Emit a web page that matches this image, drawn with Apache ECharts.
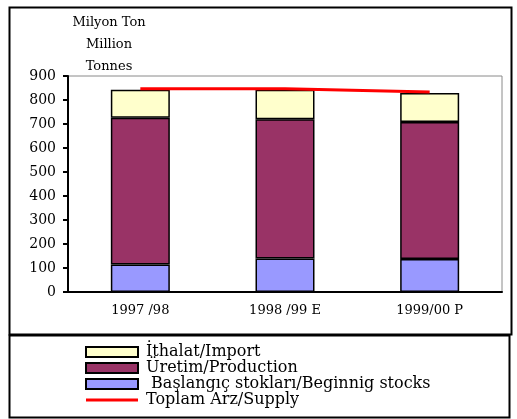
<!DOCTYPE html>
<html>
<head>
<meta charset="utf-8">
<title>Arz</title>
<script src="https://cdn.jsdelivr.net/npm/echarts@6/dist/echarts.min.js"></script>
<style>
  html, body { margin: 0; padding: 0; background: #fff; }
  #main { width: 517px; height: 419px; }
</style>
</head>
<body>
<div id="main"></div>
<script>
// kategoriler ve degerler (milyon ton)
var categories = ['1997 /98', '1998 /99 E', '1999/00 P'];
var stocks = [115, 140, 138];
var production = [611, 580, 570];
var imports = [117, 123, 121];
var supply = [847, 847, 833];
var yTicks = { min: 0, max: 900, interval: 100 };

var serif = '"DejaVu Serif", "Liberation Serif", serif';
var chart = echarts.init(document.getElementById('main'));

var barStyle = function (color) {
    return { color: color, borderColor: '#000', borderWidth: 1.5 };
};

chart.setOption({
    animation: false,
    textStyle: { fontFamily: serif, color: '#000' },
    grid: { left: 68, right: 15, top: 76, bottom: 127, show: true, borderColor: '#8a8a8a', borderWidth: 1 },
    graphic: [
        // dis cerceve ve lejant kutusu
        { type: 'rect', shape: { x: 9.5, y: 7.5, width: 502, height: 327 }, style: { fill: null, stroke: '#000', lineWidth: 2 } },
        { type: 'rect', shape: { x: 9.5, y: 335.5, width: 500, height: 82 }, style: { fill: null, stroke: '#000', lineWidth: 2 } },
        { type: 'text', x: 109, y: 12, style: { text: 'Milyon Ton\nMillion\nTonnes', font: '13px ' + serif, lineHeight: 22, fill: '#000', align: 'center' } }
    ],
    legend: {
        orient: 'vertical',
        left: 80,
        top: 339,
        itemWidth: 52,
        itemHeight: 10,
        itemGap: 0,
        textStyle: { fontFamily: serif, fontSize: 16, lineHeight: 16, color: '#000', padding: [0, 0, 0, 3] },
        data: [
            { name: 'İthalat/Import', icon: 'rect' },
            { name: 'Üretim/Production', icon: 'rect' },
            { name: ' Başlangıç stokları/Beginnig stocks', icon: 'rect' },
            { name: 'Toplam Arz/Supply', icon: 'path://M0,0 L52,0 L52,3 L0,3 Z' }
        ]
    },
    xAxis: {
        type: 'category',
        data: categories,
        axisLine: { lineStyle: { color: '#000', width: 2 } },
        axisTick: { length: 5, lineStyle: { color: '#000', width: 2 } },
        axisLabel: { fontFamily: serif, fontSize: 13, color: '#000', margin: 12 }
    },
    yAxis: {
        type: 'value',
        min: yTicks.min,
        max: yTicks.max,
        interval: yTicks.interval,
        axisLine: { show: true, lineStyle: { color: '#000', width: 2 } },
        axisTick: { show: true, length: 5, lineStyle: { color: '#000', width: 2 } },
        splitLine: { show: false },
        axisLabel: { fontFamily: serif, fontSize: 14, color: '#000', margin: 12 }
    },
    series: [
        { name: ' Başlangıç stokları/Beginnig stocks', type: 'bar', stack: 'arz', barWidth: 59, data: stocks, itemStyle: barStyle('#9999ff') },
        { name: 'Üretim/Production', type: 'bar', stack: 'arz', data: production, itemStyle: barStyle('#993366') },
        { name: 'İthalat/Import', type: 'bar', stack: 'arz', data: imports, itemStyle: barStyle('#ffffcc') },
        { name: 'Toplam Arz/Supply', type: 'line', data: supply, symbol: 'none', z: 5,
          lineStyle: { color: '#ff0000', width: 3 }, itemStyle: { color: '#ff0000' } }
    ]
});
</script>
</body>
</html>
